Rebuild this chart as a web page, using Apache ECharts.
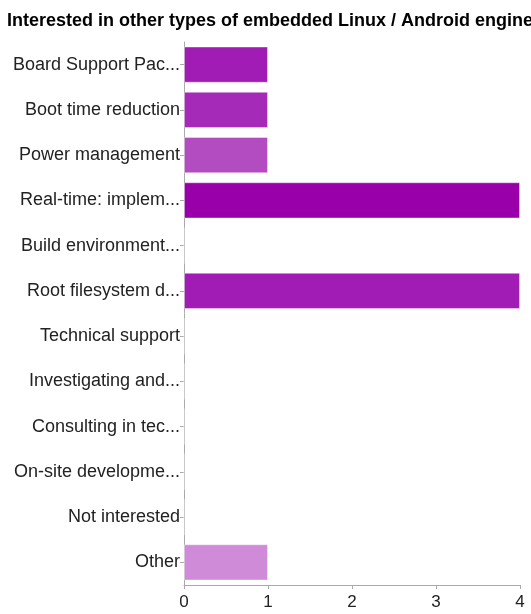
<!DOCTYPE html>
<html>
<head>
<meta charset="utf-8">
<script src="https://cdn.jsdelivr.net/npm/echarts@6/dist/echarts.min.js"></script>
<style>
html,body{margin:0;padding:0;background:#fff;}
#chart{width:531px;height:614px;}
</style>
</head>
<body>
<div id="chart"></div>
<script>
var titleText = "Interested in other types of embedded Linux / Android engineering services?";
var categories = [
  "Board Support Pac...",
  "Boot time reduction",
  "Power management",
  "Real-time: implem...",
  "Build environment...",
  "Root filesystem d...",
  "Technical support",
  "Investigating and...",
  "Consulting in tec...",
  "On-site developme...",
  "Not interested",
  "Other"
];
var values = [1, 1, 1, 4, 0, 4, 0, 0, 0, 0, 0, 1];
var xTicks = [0, 1, 2, 3, 4];
var barColors = ["#a01cb4", "#a62ab8", "#b34cc1", "#9900aa", "#a010b1", "#a01cb4", "#a01cb4", "#a01cb4", "#a01cb4", "#a01cb4", "#a01cb4", "#d08bd8"];

var chart = echarts.init(document.getElementById('chart'), null, {renderer: 'canvas'});
var dataItems = values.map(function (v, i) {
  return { value: v, itemStyle: { color: barColors[i] } };
});
chart.setOption({
  animation: false,
  title: {
    text: titleText,
    left: 2,
    top: 7,
    textStyle: { fontFamily: 'Liberation Sans, Arial, sans-serif', fontSize: 18, fontWeight: 'bold', color: '#000' }
  },
  grid: { left: 184, right: 11, top: 42, bottom: 29, containLabel: false },
  xAxis: {
    type: 'value',
    min: xTicks[0],
    max: xTicks[xTicks.length - 1],
    interval: 1,
    axisLine: { show: true, lineStyle: { color: '#aaaaaa', width: 1 } },
    axisTick: { show: true, length: 4, lineStyle: { color: '#aaaaaa' } },
    splitLine: { show: false },
    axisLabel: { color: '#222', fontSize: 17, fontFamily: 'Liberation Sans, Arial, sans-serif', margin: 9 }
  },
  yAxis: {
    type: 'category',
    inverse: true,
    data: categories,
    axisLine: { show: true, lineStyle: { color: '#aaaaaa', width: 1 } },
    axisTick: { show: true, length: 4, alignWithLabel: true, lineStyle: { color: '#aaaaaa' } },
    axisLabel: { color: '#222', fontSize: 18, fontFamily: 'Liberation Sans, Arial, sans-serif', margin: 4, padding: [4, 0, 0, 0] }
  },
  series: [{
    type: 'bar',
    data: dataItems,
    barCategoryGap: '20%',
    itemStyle: { borderColor: 'rgba(255,255,255,0.4)', borderWidth: 1 }
  }]
});
</script>
</body>
</html>
